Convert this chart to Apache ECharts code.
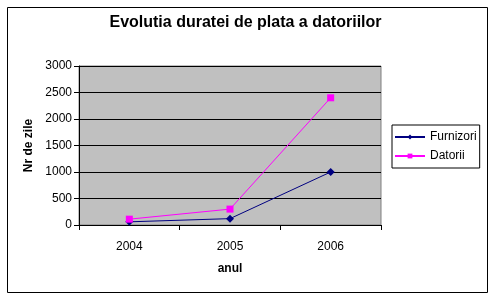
<!DOCTYPE html>
<html><head><meta charset="utf-8">
<script src="https://cdn.jsdelivr.net/npm/echarts@6/dist/echarts.min.js"></script>
<style>html,body{margin:0;padding:0;background:#fff}#c{width:491px;height:296px}</style>
</head><body><div id="c"></div>
<script>
const categories = ['2004', '2005', '2006'];
const furnizori = [60, 120, 1000];
const datorii = [110, 300, 2400];
const yTicks = [0, 500, 1000, 1500, 2000, 2500, 3000];

const chart = echarts.init(document.getElementById('c'), null, {renderer: 'canvas'});
const font = 'Liberation Sans, Arial, sans-serif';
chart.setOption({
  animation: false,
  backgroundColor: '#fff',
  title: {
    text: 'Evolutia duratei de plata a datoriilor',
    left: 'center', top: 10,
    textStyle: {fontFamily: font, fontSize: 16, fontWeight: 'bold', color: '#000'}
  },
  graphic: [{
    type: 'rect', left: 5, top: 5, z: -1,
    shape: {width: 480, height: 285},
    style: {fill: 'none', stroke: '#000', lineWidth: 1}
  }],
  grid: {left: 79, right: 110, top: 66, bottom: 71, show: true, backgroundColor: '#c0c0c0', borderColor: '#808080', borderWidth: 1},
  legend: {
    orient: 'vertical', left: 392, top: 125,
    data: ['Furnizori', 'Datorii'],
    itemWidth: 30, itemHeight: 6, itemGap: 7,
    padding: [6, 3, 6, 2],
    borderColor: '#000', borderWidth: 1, backgroundColor: '#fff', borderRadius: 0,
    textStyle: {fontFamily: font, fontSize: 12, color: '#000'}
  },
  xAxis: {
    type: 'category', data: categories, boundaryGap: true,
    name: 'anul', nameLocation: 'middle', nameGap: 38,
    nameTextStyle: {fontFamily: font, fontSize: 12, fontWeight: 'bold', color: '#000'},
    axisLine: {lineStyle: {color: '#000', width: 1}},
    axisTick: {show: true, length: 5, inside: false, lineStyle: {color: '#000'}},
    axisLabel: {fontFamily: font, fontSize: 12, color: '#000', margin: 16}
  },
  yAxis: {
    type: 'value', min: 0, max: 3000, interval: 500,
    name: 'Nr de zile', nameLocation: 'middle', nameGap: 43, nameRotate: 90,
    nameTextStyle: {fontFamily: font, fontSize: 12, fontWeight: 'bold', color: '#000'},
    axisLine: {show: true, lineStyle: {color: '#000', width: 1}},
    axisTick: {show: true, length: 5, lineStyle: {color: '#000'}},
    axisLabel: {fontFamily: font, fontSize: 12, color: '#000', margin: 7,
      formatter: v => yTicks.includes(v) ? String(v) : ''},
    splitLine: {show: true, lineStyle: {color: '#000', width: 1}}
  },
  series: [
    {name: 'Furnizori', type: 'line', data: furnizori, color: '#000080',
     symbol: 'diamond', symbolSize: 8, lineStyle: {width: 1, color: '#000080'},
     itemStyle: {color: '#000080'}},
    {name: 'Datorii', type: 'line', data: datorii, color: '#ff00ff',
     symbol: 'rect', symbolSize: 7, lineStyle: {width: 1, color: '#ff00ff'},
     itemStyle: {color: '#ff00ff'}}
  ]
});
</script></body></html>
